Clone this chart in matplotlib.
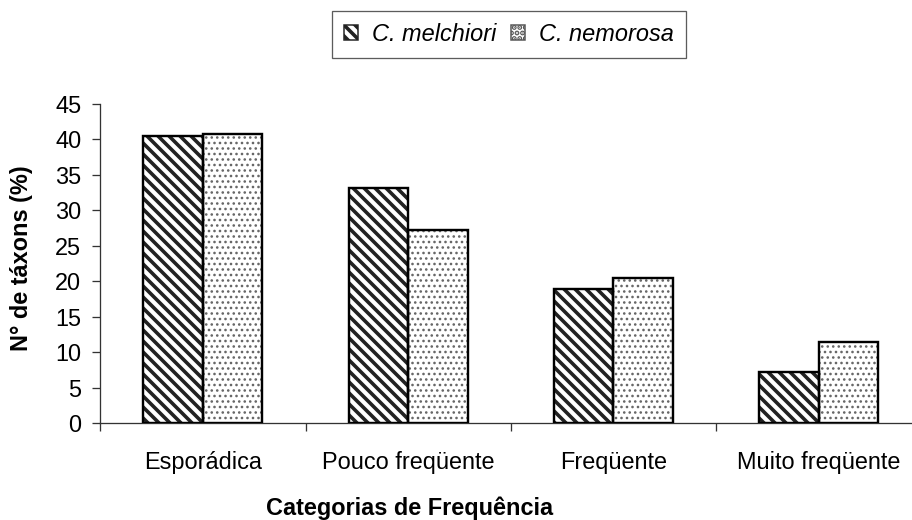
import matplotlib
matplotlib.use('Agg')
import matplotlib.pyplot as plt
from matplotlib.patches import Patch
import numpy as np

categorias = ['Esporádica', 'Pouco freqüente', 'Freqüente', 'Muito freqüente']
melchiori = [40.5, 33.2, 18.9, 7.3]
nemorosa = [40.8, 27.3, 20.5, 11.5]
series_names = ['C. melchiori', 'C. nemorosa']
yticks = list(range(0, 50, 5))

DPI = 132
W, H = 912, 520


def px(v):
    # pixels -> points
    return v * 72.0 / DPI


plt.rcParams['font.family'] = ['Liberation Sans', 'DejaVu Sans']
plt.rcParams['hatch.linewidth'] = px(3.6)

fs = px(23.5)

fig = plt.figure(figsize=(W / DPI, H / DPI), dpi=DPI)
ax = fig.add_axes([100.3 / W, (H - 423.3) / H, 821 / W, 319.3 / H])

x = np.arange(len(categorias))
w = 0.29

# diagonal stripes
ax.bar(x - w / 2, melchiori, w, color='white', edgecolor='#222222',
       hatch='\\\\\\\\', linewidth=0, zorder=2)
ax.bar(x - w / 2, melchiori, w, fill=False, edgecolor='black',
       linewidth=px(2.4), zorder=3)

# dotted
dots = ax.bar(x + w / 2, nemorosa, w, color='white', edgecolor='#666666',
              hatch='....', linewidth=0, zorder=2)
for b in dots:
    if hasattr(b, 'set_hatch_linewidth'):
        b.set_hatch_linewidth(px(1.5))
ax.bar(x + w / 2, nemorosa, w, fill=False, edgecolor='black',
       linewidth=px(2.4), zorder=3)

ax.set_xlim(-0.5, len(categorias) - 0.5)
ax.set_ylim(0, 45)

for s in ['top', 'right']:
    ax.spines[s].set_visible(False)
for s in ['left', 'bottom']:
    ax.spines[s].set_linewidth(px(1.3))
    ax.spines[s].set_color('#333333')

ax.set_yticks(yticks)
ax.set_yticklabels([str(v) for v in yticks], fontsize=fs)
ax.tick_params(axis='y', direction='out', length=px(8), width=px(1.3),
               color='#333333', pad=px(11))

ax.set_xticks(np.arange(len(categorias) + 1) - 0.5)
ax.set_xticklabels([])
ax.tick_params(axis='x', direction='out', length=px(8), width=px(1.3),
               color='#333333')

# category labels (baseline aligned)
base = -(469 - 423.3) / 319.3
for i, c in enumerate(categorias):
    ax.text(i, base, c, transform=ax.get_xaxis_transform(), ha='center',
            va='baseline', fontsize=fs, clip_on=False)

fig.text(410 / W, (H - 515) / H, 'Categorias de Frequência', ha='center',
         va='baseline', fontsize=fs, fontweight='bold')
fig.text(22 / W, 1 - 258 / H, 'N° de táxons (%)', ha='center', va='center',
         rotation=90, fontsize=fs, fontweight='bold')

handles = [
    Patch(facecolor='white', edgecolor='#222222', hatch='\\\\\\\\',
          linewidth=px(1.5)),
    Patch(facecolor='white', edgecolor='#555555', hatch='....',
          linewidth=px(1.5)),
]
for hd in handles:
    if hasattr(hd, 'set_hatch_linewidth'):
        hd.set_hatch_linewidth(px(1.2))
leg = fig.legend(handles, series_names, loc='center',
                 bbox_to_anchor=(509 / W, 1 - 34.3 / H), ncol=2,
                 prop={'size': fs, 'style': 'italic'},
                 frameon=True, fancybox=False, shadow=False,
                 handlelength=0.6, handleheight=0.6, handletextpad=0.6,
                 columnspacing=0.6, borderpad=0.5, borderaxespad=0)
leg.get_frame().set_edgecolor('#333333')
leg.get_frame().set_linewidth(px(1.3))

fig.savefig('out.png', dpi=DPI)
